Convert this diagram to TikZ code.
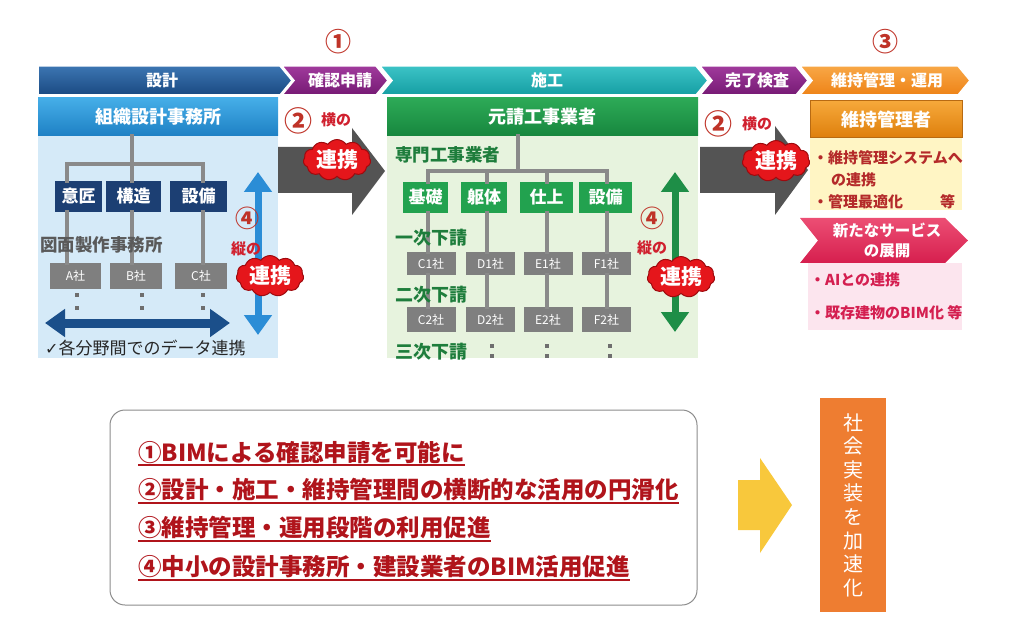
\documentclass[tikz,border=0pt]{standalone}
\usepackage{fontspec}
\setmainfont{Noto Sans CJK JP}
\newfontfamily\symfont{DejaVu Sans}
\usepackage{tikz}
\usetikzlibrary{shapes.symbols,arrows.meta}

\definecolor{navyband}{HTML}{1A4A82}
\definecolor{navytop}{HTML}{3C75B2}
\definecolor{purpband}{HTML}{761A74}
\definecolor{purptop}{HTML}{A03A9C}
\definecolor{tealband}{HTML}{159EA3}
\definecolor{tealtop}{HTML}{3CC3C6}
\definecolor{orgband}{HTML}{EE8317}
\definecolor{orgtop}{HTML}{F8A746}
\definecolor{bluehead}{HTML}{1E80C4}
\definecolor{blueheadtop}{HTML}{45AEE8}
\definecolor{bluepanel}{HTML}{D5EAF8}
\definecolor{navybox}{HTML}{1C3F73}
\definecolor{greyline}{HTML}{8A8A8A}
\definecolor{greybox}{HTML}{7F7F7F}
\definecolor{drawgrey}{HTML}{5A5A5A}
\definecolor{dotgrey}{HTML}{6E6E6E}
\definecolor{greenhead}{HTML}{17873E}
\definecolor{greenheadtop}{HTML}{2DAA57}
\definecolor{greenbox}{HTML}{22A24F}
\definecolor{greenpanel}{HTML}{E7F3DE}
\definecolor{greentext}{HTML}{1E7D3C}
\definecolor{orghead}{HTML}{DE7F0C}
\definecolor{orgheadtop}{HTML}{F6A83A}
\definecolor{orgedge}{HTML}{B86A12}
\definecolor{yellowpanel}{HTML}{FFF5C4}
\definecolor{keepred}{HTML}{B42A2A}
\definecolor{crimson}{HTML}{D61F4E}
\definecolor{crimsontop}{HTML}{EC4E74}
\definecolor{pinkpanel}{HTML}{FCE5EE}
\definecolor{servred}{HTML}{D41F50}
\definecolor{cloudred}{HTML}{E5161B}
\definecolor{cloudedge}{HTML}{9E0A0E}
\definecolor{arrowgrey}{HTML}{545454}
\definecolor{numred}{HTML}{BF3328}
\definecolor{tagred}{HTML}{D0202E}
\definecolor{goalred}{HTML}{B0141B}
\definecolor{framegrey}{HTML}{8C8C8C}
\definecolor{goldarrow}{HTML}{F8C83C}
\definecolor{orgbox}{HTML}{EE7D31}
\definecolor{navyarrow}{HTML}{1B4F8A}
\definecolor{bluearrow}{HTML}{2B8DD6}
\definecolor{greenarrow}{HTML}{1E8E47}

\newcommand{\pxf}[1]{\fontsize{#1}{#1}\selectfont}
\newcommand{\phasebar}[5]{%
  \path[top color=#4, bottom color=#5, draw=white, line width=1.5]
    (#1,66) -- ({#2-12},66) -- (#2,80.5) -- ({#2-12},95) -- (#1,95) -- ({#1+#3},80.5) -- cycle;}

\begin{document}
\begin{tikzpicture}[
    x=1pt, y=-1pt,
    every node/.style={inner sep=0pt},
    phase/.style={text=white, font=\bfseries\pxf{16}},
    head/.style={text=white, font=\bfseries\pxf{18}, minimum height=38pt},
    unit/.style={text=white, font=\bfseries\pxf{17}, minimum height=31pt},
    firm/.style={fill=greybox, text=white, font=\pxf{12}},
    tree/.style={greyline, line width=4, line cap=rect},
    tier/.style={text=greentext, font=\bfseries\pxf{18}, anchor=west},
    num/.style={text=numred, font=\bfseries\pxf{26}},
    tag/.style={text=tagred, font=\bfseries\pxf{15}},
    cloudtag/.style={cloud, cloud puffs=11, cloud puff arc=110, aspect=2,
      fill=cloudred, draw=cloudedge, line width=1, text=white, font=\bfseries\pxf{21}, inner sep=1.5pt},
    twoway/.style={line width=7, {Triangle[width=27pt,length=20pt]}-{Triangle[width=27pt,length=20pt]}},
    note/.style={font=\bfseries\pxf{15}, anchor=west},
    goal/.style={text=goalred, font=\bfseries\pxf{23.5}, anchor=west}
  ]
  \useasboundingbox (0,0) rectangle (1030,628);

  \phasebar{38}{292}{0}{navytop}{navyband}
  \phasebar{282}{388}{12}{purptop}{purpband}
  \phasebar{380}{708}{12}{tealtop}{tealband}
  \phasebar{700}{808}{12}{purptop}{purpband}
  \phasebar{800}{970}{12}{orgtop}{orgband}
  \node (ph_design) [phase] at (162,80.5) {設計};
  \node (ph_permit) [phase] at (340,80.5) {確認申請};
  \node (ph_build) [phase] at (547,80.5) {施工};
  \node (ph_check) [phase] at (757,80.5) {完了検査};
  \node (ph_keep) [phase] at (887,80.5) {維持管理・運用};
  \node (n_1) [num] at (338,42) {①};
  \node (n_3) [num] at (885,42) {③};

  \node (p_design) [fill=bluepanel, minimum width=240pt, minimum height=222pt] at (158,247) {};
  \node (h_org) [head, top color=blueheadtop, bottom color=bluehead, minimum width=240pt] at (158,117) {組織設計事務所};
  \node (p_build) [fill=greenpanel, minimum width=311pt, minimum height=222pt] at (542.5,247) {};
  \node (h_main) [head, top color=greenheadtop, bottom color=greenhead, minimum width=311pt] at (542.5,117) {元請工事業者};
  \node (p_keep) [fill=yellowpanel, minimum width=152pt, minimum height=72pt] at (886,174) {};
  \node (h_keeper) [head, top color=orgheadtop, bottom color=orghead, draw=orgedge, line width=1,
    minimum width=152pt, minimum height=37pt] at (886,119.5) {維持管理者};

  \node (d_ishou) [unit, fill=navybox, minimum width=47pt] at (78.5,196.5) {意匠};
  \node (d_kouzou) [unit, fill=navybox, minimum width=55pt] at (133.5,196.5) {構造};
  \node (d_setsubi) [unit, fill=navybox, minimum width=57pt] at (198.5,196.5) {設備};
  \node (f_a) [firm, minimum width=51pt, minimum height=26pt] at (75.5,276) {A社};
  \node (f_b) [firm, minimum width=52pt, minimum height=26pt] at (136,276) {B社};
  \node (f_c) [firm, minimum width=52pt, minimum height=26pt] at (201,276) {C社};
  \coordinate (j_a) at (67,164);
  \coordinate (j_b) at (132,164);
  \coordinate (j_c) at (203,164);
  \draw[tree] (h_org.south -| j_b) -- (j_b);
  \draw[tree] (j_a) -- (j_c);
  \foreach \j/\d/\f in {j_a/d_ishou/f_a, j_b/d_kouzou/f_b, j_c/d_setsubi/f_c} {
    \draw[tree] (\j) -- (\j |- \d.north);
    \draw[tree] (\j |- \d.south) -- (\j |- \f.north);
  }
  \node (t_drawing) [anchor=west, text=drawgrey, font=\bfseries\pxf{17.5}] at (40,245) {図面製作事務所};
  \foreach \x in {77,142,203}
    \foreach \y in {295,308}
      \fill[dotgrey] (\x-1.8,\y-1.8) rectangle (\x+1.8,\y+1.8);
  \coordinate (s_l) at (45,323);
  \coordinate (s_r) at (230,323);
  \draw[twoway, navyarrow, line width=9] (s_l) -- (s_r);
  \node (t_share) [anchor=west, font=\pxf{17}, text=black!85] at (45,348) {{\symfont\pxf{16}✓}各分野間でのデータ連携};

  \coordinate (v_d_top) at (258,172);
  \coordinate (v_d_bot) at (258,335);
  \draw[twoway, bluearrow] (v_d_top) -- (v_d_bot);
  \node (n_4a) [num, font=\bfseries\pxf{24}] at (247,218) {④};
  \node (t_tate_a) [tag] at (246,249) {縦の};
  \node (c_tate_a) [cloudtag] at (270,276) {連携};

  \node (t_trade) [tier, font=\bfseries\pxf{17.5}] at (395,155) {専門工事業者};
  \node (k_kiso) [unit, fill=greenbox, minimum width=45pt] at (425.5,197.5) {基礎};
  \node (k_kutai) [unit, fill=greenbox, minimum width=46pt] at (484,197.5) {躯体};
  \node (k_shiage) [unit, fill=greenbox, minimum width=53pt] at (546.5,197.5) {仕上};
  \node (k_setsubi) [unit, fill=greenbox, minimum width=53pt] at (605.5,197.5) {設備};
  \foreach \n/\l/\x in {c/C/431, d/D/490.5, e/E/548, f/F/606.5} {
    \node (s1_\n) [firm, minimum width=49pt, minimum height=23pt] at (\x,263.5) {\l1社};
    \node (s2_\n) [firm, minimum width=49pt, minimum height=25pt] at (\x,319.5) {\l2社};
  }
  \coordinate (j_main) at (518,171);
  \coordinate (j_k1) at (428,171);
  \coordinate (j_k2) at (487,171);
  \coordinate (j_k3) at (547,171);
  \coordinate (j_k4) at (607,171);
  \draw[tree] (h_main.south -| j_main) -- (j_main);
  \draw[tree] (j_k1) -- (j_k4);
  \foreach \j/\k/\n in {j_k1/k_kiso/c, j_k2/k_kutai/d, j_k3/k_shiage/e, j_k4/k_setsubi/f} {
    \draw[tree] (\j) -- (\j |- \k.north);
    \draw[tree] (\j |- \k.south) -- (\j |- s1_\n.north);
    \draw[tree] (\j |- s1_\n.south) -- (\j |- s2_\n.north);
  }
  \node (t_tier1) [tier] at (395,238) {一次下請};
  \node (t_tier2) [tier] at (395,295) {二次下請};
  \node (t_tier3) [tier] at (395,352) {三次下請};
  \foreach \x in {492,547,610}
    \foreach \y in {346,356}
      \fill[dotgrey] (\x-1.8,\y-1.8) rectangle (\x+1.8,\y+1.8);

  \coordinate (v_b_top) at (675,172);
  \coordinate (v_b_bot) at (675,332);
  \draw[twoway, greenarrow] (v_b_top) -- (v_b_bot);
  \node (n_4b) [num, font=\bfseries\pxf{24}] at (652,218) {④};
  \node (t_tate_b) [tag] at (652,248) {縦の};
  \node (c_tate_b) [cloudtag] at (681,277) {連携};

  \fill[arrowgrey] (278,147) -- (352,147) -- (352,128) -- (385,171) -- (352,215) -- (352,193) -- (278,193) -- cycle;
  \fill[arrowgrey] (700,147) -- (775,147) -- (775,126) -- (808,170) -- (775,215) -- (775,193) -- (700,193) -- cycle;
  \node (n_2a) [num, font=\bfseries\pxf{28}] at (298,121) {②};
  \node (t_yoko_a) [tag] at (336,120) {横の};
  \node (c_yoko_a) [cloudtag] at (337,160) {連携};
  \node (n_2b) [num, font=\bfseries\pxf{28}] at (718,124) {②};
  \node (t_yoko_b) [tag] at (757,124) {横の};
  \node (c_yoko_b) [cloudtag] at (776,161) {連携};

  \node (k_note1) [note, text=keepred] at (813,158) {・維持管理システムへ};
  \node (k_note2) [note, text=keepred] at (831,180) {の連携};
  \node (k_note3) [note, text=keepred] at (813,202) {・管理最適化};
  \node (k_note4) [note, text=keepred] at (940,202) {等};

  \path[top color=crimsontop, bottom color=crimson] (800,218) -- (945,218) -- (968,240.5) -- (945,263) -- (800,263) -- (818,240.5) -- cycle;
  \node (sv_title1) [text=white, font=\bfseries\pxf{15.5}] at (887,230) {新たなサービス};
  \node (sv_title2) [text=white, font=\bfseries\pxf{15.5}] at (887,251) {の展開};
  \node (p_service) [fill=pinkpanel, minimum width=154pt, minimum height=67pt] at (885,296.5) {};
  \node (sv_note1) [note, text=servred] at (810,280) {・AIとの連携};
  \node (sv_note2) [note, text=servred] at (810,313) {・既存建物のBIM化 等};

  \node (goals) [draw=framegrey, line width=1, rounded corners=15pt, minimum width=587pt, minimum height=195pt] at (403.5,507.5) {};
  \node (g_1) [goal] at (138,452) {①BIMによる確認申請を可能に};
  \node (g_2) [goal] at (138,490) {②設計・施工・維持管理間の横断的な活用の円滑化};
  \node (g_3) [goal] at (138,528) {③維持管理・運用段階の利用促進};
  \node (g_4) [goal] at (138,567) {④中小の設計事務所・建設業者のBIM活用促進};
  \foreach \i in {1,...,4}
    \draw[goalred, line width=1.8] ([yshift=-4pt]g_\i.base west) -- ([yshift=-4pt]g_\i.base east);

  \fill[goldarrow] (738,480) -- (760,480) -- (760,458) -- (792,505) -- (760,553) -- (760,530) -- (738,530) -- cycle;
  \node (result) [fill=orgbox, text=white, minimum width=66pt, minimum height=214pt, align=center,
    font=\fontsize{20}{23.6}\selectfont] at (853,505) {社\\会\\実\\装\\を\\加\\速\\化};
\end{tikzpicture}
\end{document}
